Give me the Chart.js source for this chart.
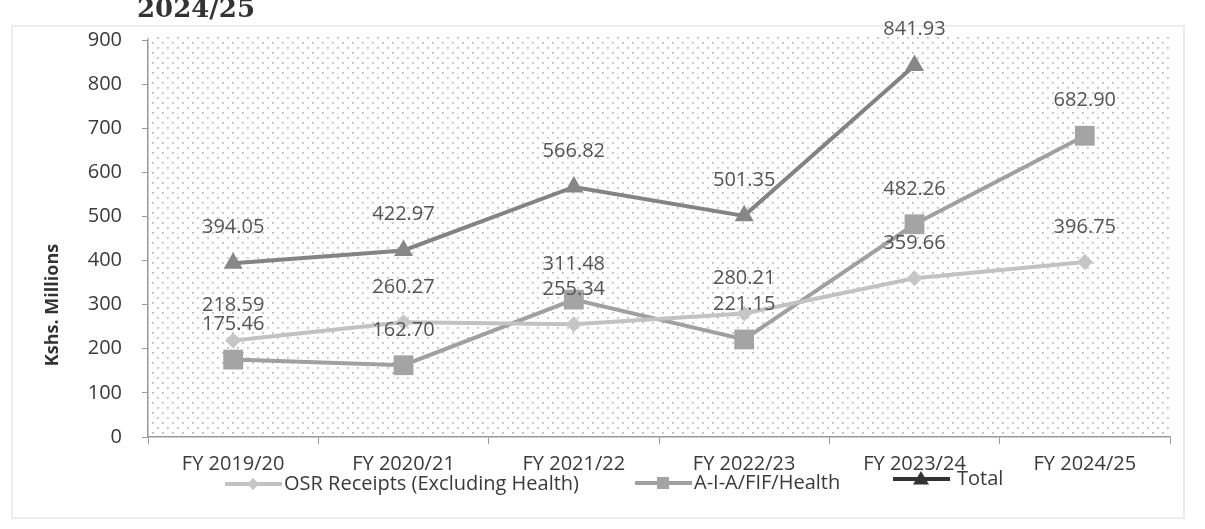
<!DOCTYPE html>
<html>
<head>
<meta charset="utf-8">
<script src="https://cdn.jsdelivr.net/npm/chart.js@4.4.1/dist/chart.umd.min.js"></script>
<style>
  html, body { margin: 0; padding: 0; background: #fff; }
  #wrap { position: relative; width: 1205px; height: 529px; }
</style>
</head>
<body>
<div id="wrap"><canvas id="c" width="1205" height="529"></canvas></div>
<script>
  // OSR / A-I-A gelirleri, milyon Kshs
  const years = ["FY 2019/20", "FY 2020/21", "FY 2021/22", "FY 2022/23", "FY 2023/24", "FY 2024/25"];
  const osr = [218.59, 260.27, 255.34, 280.21, 359.66, 396.75];
  const aia = [175.46, 162.70, 311.48, 221.15, 482.26, 682.90];
  const total = [394.05, 422.97, 566.82, 501.35, 841.93, null];
  const yTicks = [0, 100, 200, 300, 400, 500, 600, 700, 800, 900];

  const FONT = "'Open Sans', 'Noto Sans', sans-serif";

  // noktalı arka plan deseni
  function dotPattern(ctx) {
    const p = document.createElement("canvas");
    p.width = 10; p.height = 10;
    const g = p.getContext("2d");
    g.fillStyle = "#bdbdbd";
    g.fillRect(2, 2, 1.8, 1.8);
    g.fillRect(7, 7, 1.8, 1.8);
    return ctx.createPattern(p, "repeat");
  }

  const bgPlugin = {
    id: "bg",
    beforeDraw(chart) {
      const { ctx, chartArea: a } = chart;
      ctx.save();
      ctx.fillStyle = "#fff";
      ctx.fillRect(0, 0, chart.width, chart.height);
      ctx.strokeStyle = "#ececec";
      ctx.lineWidth = 2;
      ctx.strokeRect(12, 26, 1172, 492);
      ctx.fillStyle = dotPattern(ctx);
      ctx.fillRect(a.left, a.top - 4, a.right - a.left, a.bottom - a.top + 4);
      ctx.restore();
    }
  };

  const labelPlugin = {
    id: "vals",
    afterDatasetsDraw(chart) {
      const ctx = chart.ctx;
      ctx.save();
      ctx.font = "20px " + FONT;
      ctx.fillStyle = "#555";
      ctx.textAlign = "center";
      ctx.textBaseline = "middle";
      chart.data.datasets.forEach((ds, i) => {
        chart.getDatasetMeta(i).data.forEach((pt, j) => {
          const v = ds.data[j];
          if (v == null) return;
          ctx.fillText(v.toFixed(2), pt.x, pt.y - ds.labelLift);
        });
      });
      ctx.restore();
    }
  };

  function marker(ctx, style, x, y, r, color) {
    ctx.fillStyle = color;
    ctx.beginPath();
    if (style === "rectRot") { ctx.moveTo(x, y - r); ctx.lineTo(x + r, y); ctx.lineTo(x, y + r); ctx.lineTo(x - r, y); }
    else if (style === "rect") { ctx.rect(x - r, y - r, 2 * r, 2 * r); }
    else { ctx.moveTo(x, y - r); ctx.lineTo(x + r, y + r * 0.7); ctx.lineTo(x - r, y + r * 0.7); }
    ctx.closePath();
    ctx.fill();
  }

  const extrasPlugin = {
    id: "extras",
    afterDraw(chart) {
      const ctx = chart.ctx;
      ctx.save();
      // üst başlık (kesik)
      ctx.font = "bold 26px 'DejaVu Serif', serif";
      ctx.fillStyle = "#333";
      ctx.textBaseline = "alphabetic";
      ctx.fillText("2024/25", 137, 17);
      // y ekseni başlığı
      ctx.font = "bold 18px " + FONT;
      ctx.fillStyle = "#333";
      ctx.translate(53, 305);
      ctx.rotate(-Math.PI / 2);
      ctx.textAlign = "center";
      ctx.textBaseline = "middle";
      ctx.fillText("Kshs. Millions", 0, 0);
      ctx.restore();

      // lejant
      const items = [
        { ds: 0, x: 225, y: 484, text: "OSR Receipts (Excluding Health)" },
        { ds: 1, x: 635, y: 483, text: "A-I-A/FIF/Health" },
        { ds: 2, x: 893, y: 479, text: "Total" }
      ];
      ctx.save();
      ctx.font = "20px " + FONT;
      ctx.textBaseline = "middle";
      items.forEach(it => {
        const ds = chart.data.datasets[it.ds];
        const dark = it.ds === 2;
        ctx.strokeStyle = dark ? "#333" : ds.borderColor;
        ctx.lineWidth = 4;
        ctx.beginPath(); ctx.moveTo(it.x, it.y); ctx.lineTo(it.x + 57, it.y); ctx.stroke();
        const r = ds.pointStyle === "triangle" ? 8 : 6;
        marker(ctx, ds.pointStyle, it.x + 28, it.y, r, dark ? "#333" : ds.pointBackgroundColor);
        ctx.fillStyle = "#3a3a3a";
        ctx.fillText(it.text, it.x + (dark ? 64 : 59), it.y);
      });
      ctx.restore();
    }
  };

  new Chart(document.getElementById("c"), {
    type: "line",
    data: {
      labels: years,
      datasets: [
        { label: "OSR Receipts (Excluding Health)", data: osr, borderColor: "#c2c2c2", borderWidth: 4,
          pointStyle: "rectRot", pointRadius: 8, pointBackgroundColor: "#c6c6c6", pointBorderWidth: 0, labelLift: 35 },
        { label: "A-I-A/FIF/Health", data: aia, borderColor: "#a0a0a0", borderWidth: 4,
          pointStyle: "rect", pointRadius: 14, pointBackgroundColor: "#a4a4a4", pointBorderWidth: 0, labelLift: 35 },
        { label: "Total", data: total, borderColor: "#838383", borderWidth: 4,
          pointStyle: "triangle", pointRadius: 11, pointBackgroundColor: "#878787", pointBorderWidth: 0, labelLift: 36 }
      ]
    },
    options: {
      responsive: false,
      animation: false,
      spanGaps: false,
      layout: { padding: { left: 0, right: 35, top: 40, bottom: 0 } },
      plugins: { legend: { display: false }, tooltip: { enabled: false } },
      scales: {
        x: {
          offset: true,
          afterFit(s) { s.height = 92; },
          border: { color: "#999", width: 1.5 },
          grid: { offset: true, drawOnChartArea: false, tickLength: 7, color: "#999" },
          ticks: { color: "#3a3a3a", font: { size: 20, family: FONT }, padding: 8, maxRotation: 0 }
        },
        y: {
          min: 0, max: 900,
          afterFit(s) { s.width = 148; },
          afterBuildTicks(s) { s.ticks = yTicks.map(v => ({ value: v })); },
          border: { color: "#999", width: 1.5 },
          grid: { drawOnChartArea: false, tickLength: 6, color: "#999" },
          ticks: { color: "#3a3a3a", font: { size: 20, family: FONT }, padding: 20 }
        }
      }
    },
    plugins: [bgPlugin, labelPlugin, extrasPlugin]
  });
</script>
</body>
</html>
